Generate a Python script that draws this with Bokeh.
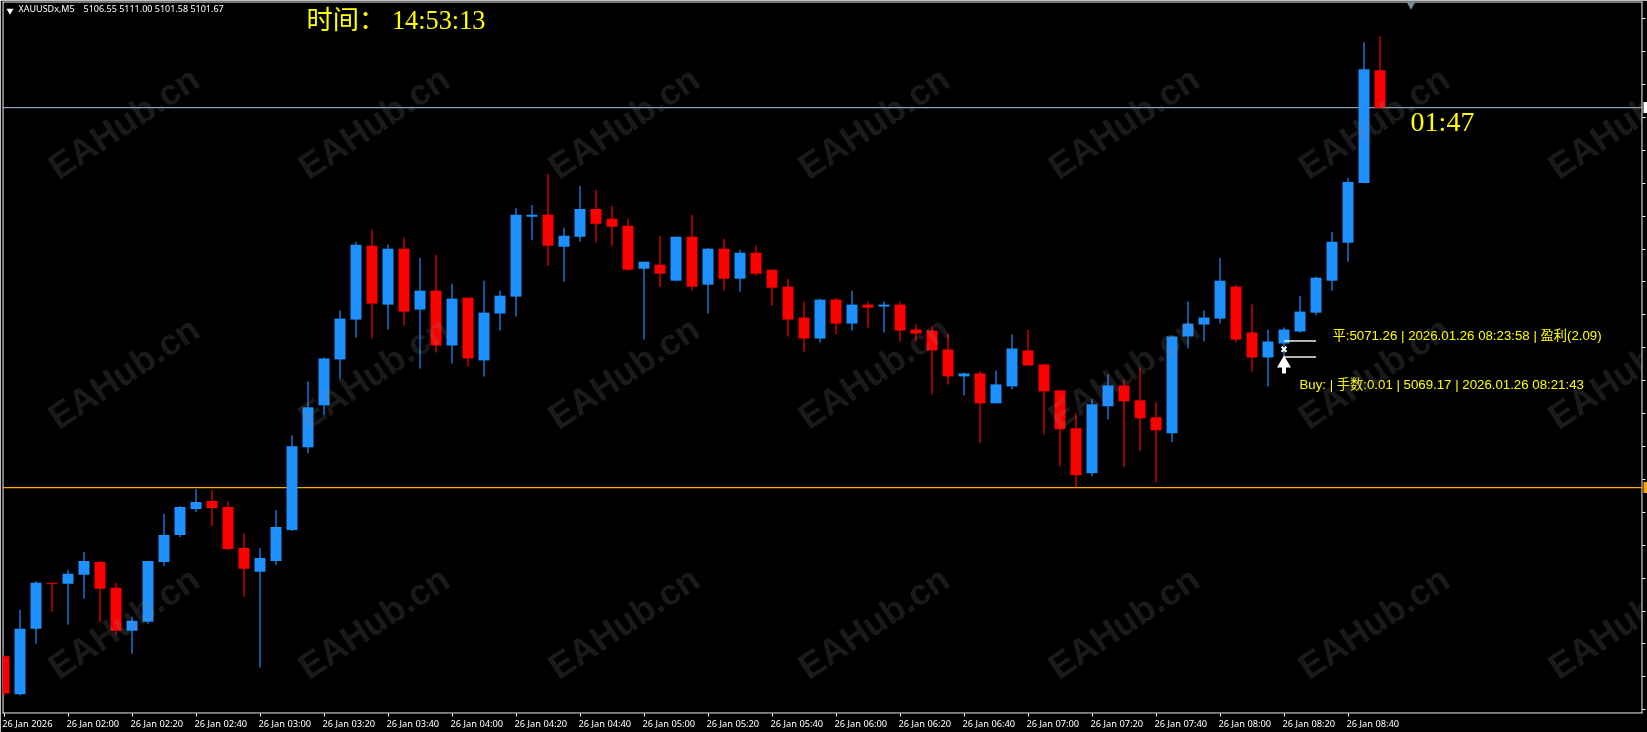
from bokeh.embed import file_html
from bokeh.models import (ColumnDataSource, CustomJSTickFormatter, FixedTicker,
                          Label, LinearAxis, Range1d, Span)
from bokeh.plotting import figure
from bokeh.resources import INLINE

OPEN = [5030.15, 5025.22, 5033.75, 5039.73, 5039.60, 5040.77, 5042.46, 5039.08, 5033.49, 5034.66,
        5042.46, 5045.97, 5049.35, 5050.39, 5049.61, 5044.28, 5041.16, 5042.59, 5046.62, 5057.40,
        5062.87, 5068.85, 5074.05, 5083.67, 5076.00, 5083.28, 5075.35, 5077.82, 5070.67, 5076.91,
        5068.72, 5074.83, 5077.04, 5087.44, 5087.70, 5083.54, 5084.84, 5088.48, 5087.18, 5086.27,
        5080.68, 5081.20, 5079.12, 5084.84, 5078.60, 5083.28, 5079.38, 5082.76, 5080.55, 5078.34,
        5074.31, 5071.58, 5076.65, 5073.53, 5076.00, 5075.74, 5076.00, 5072.75, 5072.62, 5070.15,
        5066.64, 5067.03, 5063.13, 5065.34, 5070.02, 5068.20, 5064.82, 5059.88, 5054.03, 5062.74,
        5065.47, 5063.52, 5061.31, 5059.23, 5071.84, 5073.40, 5074.18, 5078.34, 5072.36, 5069.11,
        5070.93, 5072.49, 5074.95, 5079.12, 5084.06, 5091.86, 5106.55]
HIGH = [5030.30, 5036.22, 5039.95, 5039.73, 5041.42, 5043.76, 5042.59, 5039.73, 5035.31, 5042.59,
        5048.70, 5049.74, 5051.95, 5051.82, 5050.39, 5046.23, 5044.28, 5049.22, 5058.96, 5065.99,
        5069.11, 5075.22, 5084.19, 5085.75, 5083.80, 5084.71, 5082.11, 5082.50, 5078.73, 5076.91,
        5079.12, 5077.82, 5088.61, 5089.00, 5093.03, 5086.01, 5091.47, 5090.95, 5088.87, 5087.18,
        5081.59, 5084.97, 5084.84, 5087.70, 5083.41, 5084.58, 5083.15, 5083.67, 5080.55, 5079.38,
        5076.39, 5076.78, 5076.91, 5077.82, 5076.39, 5076.39, 5076.39, 5073.40, 5073.14, 5072.23,
        5067.16, 5067.29, 5067.42, 5072.10, 5072.75, 5068.20, 5064.82, 5061.83, 5063.65, 5066.90,
        5066.25, 5067.81, 5063.26, 5071.97, 5076.39, 5075.22, 5082.11, 5078.60, 5076.00, 5072.75,
        5073.01, 5077.17, 5079.64, 5085.49, 5092.51, 5110.19, 5111.00]
LOW = [5025.08, 5025.08, 5031.80, 5035.96, 5034.27, 5037.65, 5034.66, 5032.97, 5030.50, 5034.40,
       5041.94, 5045.71, 5048.96, 5047.14, 5044.02, 5037.91, 5028.68, 5042.07, 5046.49, 5056.63,
       5061.57, 5066.25, 5071.71, 5071.58, 5072.75, 5073.27, 5067.68, 5069.76, 5068.33, 5067.94,
       5066.64, 5072.62, 5074.44, 5084.45, 5081.07, 5078.99, 5084.19, 5084.06, 5083.67, 5080.42,
       5071.45, 5078.34, 5079.12, 5077.82, 5074.83, 5077.82, 5077.69, 5079.77, 5075.87, 5071.84,
       5069.89, 5071.06, 5072.10, 5072.62, 5073.01, 5072.36, 5071.19, 5071.19, 5064.30, 5065.60,
       5064.17, 5057.93, 5063.13, 5064.95, 5068.07, 5059.10, 5054.94, 5052.21, 5053.64, 5061.05,
       5054.81, 5056.89, 5052.86, 5058.06, 5070.28, 5071.19, 5073.53, 5071.06, 5067.29, 5065.34,
       5069.00, 5072.36, 5074.57, 5077.82, 5081.59, 5091.86, 5101.58]
CLOSE = [5025.30, 5033.75, 5039.73, 5039.60, 5040.90, 5042.59, 5038.95, 5033.49, 5034.79, 5042.59,
         5045.97, 5049.61, 5050.26, 5049.48, 5044.15, 5041.55, 5042.98, 5047.01, 5057.54, 5062.61,
         5068.98, 5074.18, 5083.80, 5076.13, 5083.28, 5075.09, 5077.82, 5070.67, 5076.78, 5068.98,
         5074.96, 5077.17, 5087.70, 5087.70, 5083.67, 5084.97, 5088.48, 5086.53, 5086.14, 5080.55,
         5081.59, 5080.03, 5084.84, 5078.34, 5083.28, 5079.38, 5082.76, 5080.03, 5078.21, 5074.05,
         5071.58, 5076.65, 5073.53, 5076.00, 5075.61, 5076.00, 5072.62, 5072.23, 5070.02, 5066.64,
         5067.03, 5063.13, 5065.60, 5070.28, 5068.07, 5064.69, 5059.75, 5053.77, 5063.00, 5065.47,
         5063.39, 5061.18, 5059.62, 5071.84, 5073.53, 5074.31, 5079.12, 5071.45, 5069.11, 5071.19,
         5072.75, 5075.09, 5079.51, 5084.19, 5091.99, 5106.68, 5101.67]

TIME_LABELS = ["26 Jan 2026", "26 Jan 02:00", "26 Jan 02:20", "26 Jan 02:40", "26 Jan 03:00",
               "26 Jan 03:20", "26 Jan 03:40", "26 Jan 04:00", "26 Jan 04:20", "26 Jan 04:40",
               "26 Jan 05:00", "26 Jan 05:20", "26 Jan 05:40", "26 Jan 06:00", "26 Jan 06:20",
               "26 Jan 06:40", "26 Jan 07:00", "26 Jan 07:20", "26 Jan 07:40", "26 Jan 08:00",
               "26 Jan 08:20", "26 Jan 08:40"]
PRICE_TICKS = [5113.27, 5108.98, 5104.69, 5100.40, 5096.11, 5091.82, 5087.53, 5083.24, 5078.95,
               5074.66, 5070.37, 5066.08, 5061.79, 5057.50, 5053.21, 5048.92, 5044.63, 5040.34,
               5036.05, 5031.76, 5027.47, 5023.18]
BID = 5101.67
LEVEL = 5052.14
TRADE_OPEN = 5069.17
TRADE_CLOSE = 5071.26
TRADE_BAR = 80

UP, DOWN = "#1E90FF", "#FF0000"
YELLOW = "#FFFF00"
W, H = 1647, 732
L_PAD, R_PAD, T_PAD, B_PAD = 2, 5, 1, 17
BAR_PX = 16.0
PX_PER_PRICE = 1 / 0.13

# The price/pixel relation: BID sits at canvas row 107.5, first bar at column 3.5
def px_x(cx):
    return (cx - 3.5) / BAR_PX

def px_y(cy):
    return BID + (107.5 - cy) / PX_PER_PRICE

frame_l, frame_r, frame_t, frame_b = L_PAD, W - R_PAD, T_PAD, H - B_PAD

p = figure(width=W, height=H, output_backend="svg", toolbar_location=None,
           x_range=Range1d(px_x(frame_l), px_x(frame_r)),
           y_range=Range1d(px_y(frame_b), px_y(frame_t)),
           x_axis_type=None, y_axis_type=None,
           min_border_left=L_PAD, min_border_right=R_PAD, min_border_top=T_PAD, min_border_bottom=B_PAD,
           background_fill_color="black", border_fill_color="black", outline_line_color=None)
p.grid.visible = False
p.styles = {"position": "fixed", "left": "0px", "top": "0px"}

idx = list(range(len(OPEN)))
src = ColumnDataSource(dict(
    x=idx, h=HIGH, l=LOW,
    top=[max(o, c) for o, c in zip(OPEN, CLOSE)],
    bottom=[min(o, c) for o, c in zip(OPEN, CLOSE)],
    color=[UP if c >= o else DOWN for o, c in zip(OPEN, CLOSE)],
))

# frame lines
for dim, loc in (("height", px_x(2.5)), ("height", px_x(frame_r - 0.5)),
                 ("width", px_y(1.5)), ("width", px_y(frame_b - 0.5))):
    p.add_layout(Span(location=loc, dimension=dim, line_color="white", line_width=1, level="underlay"))

p.add_layout(Span(location=BID, dimension="width", line_color="#B0C4DE", line_width=1, level="underlay"))
p.add_layout(Span(location=LEVEL, dimension="width", line_color="#FFA500", line_width=1.4, level="underlay"))

p.segment("x", "h", "x", "l", source=src, line_color="color", line_width=1.2)
p.vbar("x", width=11 / BAR_PX, top="top", bottom="bottom", source=src, fill_color="color", line_color=None)

# trade marks
p.segment([TRADE_BAR, TRADE_BAR], [TRADE_CLOSE, TRADE_OPEN], [TRADE_BAR + 2, TRADE_BAR + 2],
          [TRADE_CLOSE, TRADE_OPEN], line_color="white", line_width=1.4)
p.scatter([TRADE_BAR], [px_y(349.7)], marker="x", size=7, line_color="white", line_width=2)
p.scatter([TRADE_BAR], [px_y(364)], marker="triangle", size=14, fill_color="white", line_color=None)
p.vbar([TRADE_BAR], width=4 / BAR_PX, top=px_y(365), bottom=px_y(374), fill_color="white", line_color=None)

# small header triangle, chart-shift triangle
p.scatter([px_x(9.5)], [px_y(10.3)], marker="inverted_triangle", size=7, fill_color="white", line_color=None)
p.scatter([px_x(1410.5)], [px_y(3.5)], marker="inverted_triangle", size=10, fill_color="#778899", line_color=None)

# axes
tick_positions = list(range(0, 4 * len(TIME_LABELS), 4))
empty = CustomJSTickFormatter(code="return ''")
tick_axis = LinearAxis(ticker=FixedTicker(ticks=tick_positions), formatter=empty,
                       axis_line_color=None, major_tick_line_color="white", major_tick_in=0, major_tick_out=3,
                       minor_tick_line_color=None, major_label_standoff=0, major_label_text_font_size="1px")
p.add_layout(tick_axis, "below")

label_pos = [t + (1.46 if t == 0 else 1.55) for t in tick_positions]
label_axis = LinearAxis(ticker=FixedTicker(ticks=label_pos),
                        major_label_overrides={k: v for k, v in zip(label_pos, TIME_LABELS)},
                        axis_line_color=None, major_tick_line_color=None, minor_tick_line_color=None,
                        major_tick_in=0, major_tick_out=0, major_label_standoff=0,
                        major_label_text_color="white", major_label_text_font="Noto Sans",
                        major_label_text_font_size="9.3px")
p.add_layout(label_axis, "below")

price_axis = LinearAxis(ticker=FixedTicker(ticks=PRICE_TICKS), formatter=empty,
                        axis_line_color=None, major_tick_line_color="white", major_tick_in=0, major_tick_out=3,
                        minor_tick_line_color=None, major_label_standoff=0, major_label_text_font_size="1px")
p.add_layout(price_axis, "right")

# current-price and level tags on the price scale: one thick tick each
for price, color, tick_in, tick_out in ((BID, "white", 2, 2), (LEVEL, "#FFA500", 4, 0)):
    p.add_layout(LinearAxis(ticker=FixedTicker(ticks=[price]), formatter=empty, axis_line_color=None,
                            major_tick_line_color=color, major_tick_line_width=11,
                            major_tick_in=tick_in, major_tick_out=tick_out, minor_tick_line_color=None,
                            major_label_standoff=0, major_label_text_font_size="1px"), "right")


def text(cx, cy, s, color, size, font, align="left", bold=False, angle=0, alpha=1.0):
    p.add_layout(Label(x=cx - frame_l, y=frame_b - cy, x_units="screen", y_units="screen", text=s,
                       text_color=color, text_font_size=f"{size}px", text_font=font, text_align=align,
                       text_baseline="middle", angle=angle, angle_units="deg", text_alpha=alpha,
                       text_font_style="bold" if bold else "normal"))


text(18, 10, "XAUUSDx,M5", "white", 9, "Noto Sans")
text(83, 10, "5106.55 5111.00 5101.58 5101.67", "white", 9, "Noto Sans")
text(306, 21.5, "时间： 14:53:13", YELLOW, 26.3, "Liberation Serif, Noto Sans CJK SC")
text(1442, 123, "01:47", YELLOW, 28, "Liberation Serif", align="center")
text(1332, 337, "平:5071.26 | 2026.01.26 08:23:58 | 盈利(2.09)", YELLOW, 13.25, "Liberation Sans, Noto Sans CJK SC")
text(1299, 386, "Buy: | 手数:0.01 | 5069.17 | 2026.01.26 08:21:43", YELLOW, 13.25, "Liberation Sans, Noto Sans CJK SC")

# watermark, tiled every 250 px over the whole picture
for col in range(7):
    for row in range(3):
        text(123 + 250 * col, 124 + 250 * row, "EAHub.cn", "#808080", 36, "Liberation Sans",
             align="center", bold=True, angle=33.6, alpha=0.2)

open("out.html", "w").write(file_html(p, INLINE))
